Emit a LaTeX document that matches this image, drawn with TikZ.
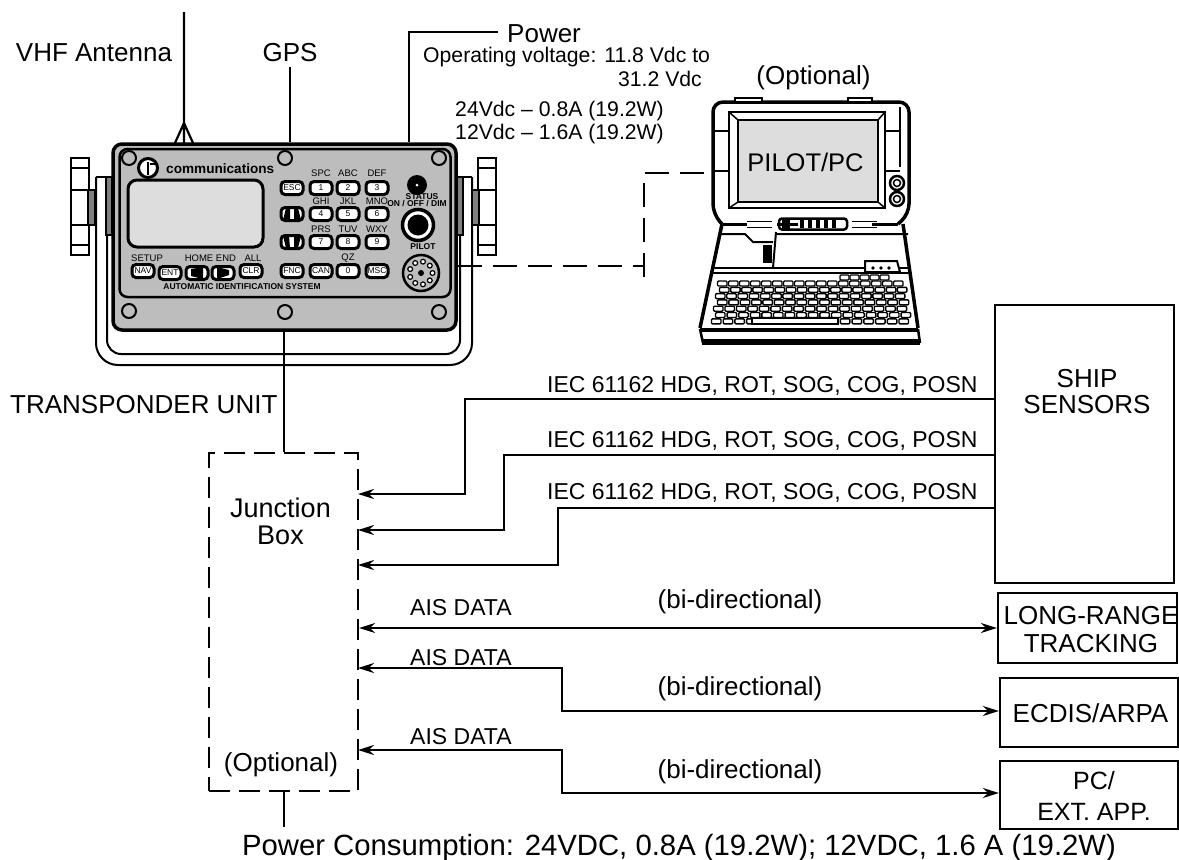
\documentclass[tikz,border=0pt]{standalone}
\usepackage{fontspec}
\setmainfont{Liberation Sans}
\usetikzlibrary{arrows.meta}
\definecolor{panelgray}{HTML}{BDBDBD}
\definecolor{screengray}{HTML}{DDDDDD}
\tikzset{
  biglabel/.style={font=\fontsize{26}{28}\selectfont, inner sep=0, align=center},
  midlabel/.style={font=\fontsize{23}{26}\selectfont, inner sep=0, align=center},
  smalllabel/.style={font=\fontsize{21.2}{23}\selectfont, inner sep=0, align=center},
  keylabel/.style={font=\fontsize{9.5}{11}\selectfont, inner sep=0},
  boldlabel/.style={font=\bfseries\fontsize{8.5}{10}\selectfont, inner sep=0},
  keycap/.style={draw=black, fill=white, line width=3pt, rounded corners=4pt, minimum width=22, minimum height=13, inner sep=0, font=\fontsize{8.5}{10}\selectfont},
  wire/.style={line width=2.2pt},
  dashwire/.style={line width=2.2pt, dash pattern=on 24pt off 11pt},
  sidebox/.style={draw, line width=2.2pt, inner sep=0, align=center, font=\fontsize{26}{28}\selectfont},
  screw/.style={circle, draw, line width=2pt, fill=panelgray, minimum size=14, inner sep=0}
}
\begin{document}
\begin{tikzpicture}[x=1pt, y=-1pt, >={Stealth[length=16pt, width=10pt]}]
    \useasboundingbox (0,0) rectangle (1179,860);
    \draw[line width=2pt, rounded corners=22pt] (96,177) -- (96,365) -- (472,365) -- (472,177);
    \draw[line width=2pt] (96,177) -- (110,177) (472,177) -- (458,177);
    \draw[line width=2pt, rounded corners=14pt] (107,235) -- (107,354) -- (460,354) -- (460,235);
    \filldraw[fill=gray, line width=1.5pt] (106,177) rectangle (112,235) (457,177) rectangle (463,235);
    \foreach \kx/\gx in {71/88, 478/472}{
        \draw[line width=2pt] (\kx,158) rectangle ++(18,97);
        \draw[line width=2pt] (\kx,168) -- ++(18,0) (\kx,245) -- ++(18,0) (\kx,190) -- ++(18,0) (\kx,225) -- ++(18,0);
        \filldraw[fill=gray, line width=1.5pt] (\gx,190) rectangle ++(7,35);
    }
    \node[draw, line width=3.5pt, fill=panelgray, rounded corners=9pt, minimum width=343, minimum height=186, inner sep=0] (unit) at (284.5,237) {};
    \node[draw, line width=2.5pt, fill=panelgray, rounded corners=8pt, minimum width=331, minimum height=148, inner sep=0] (panel) at (285,223) {};
    \foreach \sx/\sy in {129/158, 285/158, 439/158, 129/311, 285/312, 439/312}{
        \node[screw] (screw\sx\sy) at (\sx,\sy) {};
    }
    \node[circle, draw, line width=3pt, fill=white, minimum size=19, inner sep=0] (logo) at (148,168) {};
    \fill (147,162) rectangle (149,175);
    \draw[line width=2pt] (150,164) -- (155,164);
    \node[font=\bfseries\fontsize{13.6}{16}\selectfont, inner sep=0, anchor=west] (brand) at (166,169) {communications};
    \node[draw, line width=3pt, fill=screengray, rounded corners=9pt, minimum width=135, minimum height=67, inner sep=0] (lcd) at (195.5,213.5) {};
    \foreach \kname/\kx/\ky/\ktxt in {esc/292/188/ESC, k1/321/188/1, k2/348/188/2, k3/377/188/3, k4/321/214/4, k5/348/214/5, k6/377/214/6, k7/321/242/7, k8/348/242/8, k9/377/242/9, fnc/292/271/FNC, can/321/271/CAN, k0/348/271/0, msc/377/271/MSC, nav/143/271/NAV, ent/170/273/ENT, clr/251/271/CLR, lft/197/273/, rgt/223/273/, up/292/214/, dwn/292/242/}{
        \node[keycap] (\kname) at (\kx,\ky) {\ktxt};
    }
    \fill (191,269) -- (203,267) -- (203,279) -- (191,276) -- cycle;
    \fill (217,267) -- (229,270) -- (229,275) -- (217,279) -- cycle;
    \fill (286,208) -- (290,208) -- (290,220) -- (283,220) -- cycle (294,208) -- (298,208) -- (301,220) -- (294,220) -- cycle;
    \fill (283,236) -- (289,236) -- (290,248) -- (286,248) -- cycle (294,236) -- (301,236) -- (298,248) -- (294,248) -- cycle;
    \foreach \lname/\lx/\ly/\ltxt in {spc/321/173/SPC, abc/348/173/ABC, def/377/173/DEF, ghi/321/201/GHI, jkl/348/201/JKL, mno/377/201/MNO, prs/321/229/PRS, tuv/348/229/TUV, wxy/377/229/WXY, setup/147/258/SETUP, home/199/258/HOME, end/226/258/END, all/253/258/ALL, qz/348/258/QZ}{
        \node[keylabel] (\lname) at (\lx,\ly) {\ltxt};
    }
    \node[boldlabel] (aisname) at (242,287) {AUTOMATIC IDENTIFICATION SYSTEM};
    \node[boldlabel] (status) at (422,197) {STATUS};
    \node[boldlabel] (onoff) at (417,204) {ON / OFF / DIM};
    \node[boldlabel] (pilot) at (423,247) {PILOT};
    \fill (417,185) circle (10);
    \fill[white] (417,185) circle (1.5);
    \node[circle, draw, line width=3.5pt, fill=white, minimum size=31, inner sep=0] (dial) at (418,225) {};
    \fill (418,225) circle (10.5);
    \node[circle, draw, line width=2.5pt, fill=panelgray, minimum size=36, inner sep=0] (port) at (421,273) {};
    \foreach \pa in {0,40,...,320}{
        \draw[line width=1.2pt, fill=white] (421,273) ++(\pa:11.5) circle (2.4);
    }
    \fill (421,273) circle (3);
    \coordinate (vhftop) at (184,12);
    \coordinate (vhffork) at (184,123);
    \draw[wire] (vhftop) -- (vhffork) -- (175,143) (vhffork) -- (193,143) (vhffork) -- (184,143);
    \node[biglabel] (vhf) at (94,53) {VHF Antenna};
    \node[biglabel] (gps) at (290,53) {GPS};
    \draw[wire] (290,67) -- (unit.north -| 290,0);
    \node[biglabel, anchor=west] (power) at (507,34) {Power};
    \draw[wire] (unit.north -| 409,0) -- (409,32) -- (498,32);
    \node[smalllabel, anchor=west] (volt) at (423,57) {Operating voltage: 11.8 Vdc to};
    \node[smalllabel, anchor=east] (volttwo) at (702,79) {31.2 Vdc};
    \node[smalllabel, align=left] (amps) at (559.5,122.5) {24Vdc -- 0.8A (19.2W)\\12Vdc -- 1.6A (19.2W)};
    \node[biglabel] (optpc) at (813.5,78) {(Optional)};
    \draw[line width=3.5pt, rounded corners=10pt] (722,224) -- (713,214) -- (713,102) -- (909,102) -- (909,214) -- (898,224);
    \draw[line width=2pt, fill=white] (735,98) rectangle (762,102) (848,98) rectangle (872,102);
    \draw[line width=2pt] (713,131) -- (729,131) (713,171) -- (729,171) (885,131) -- (900,131) (885,171) -- (900,171);
    \draw[line width=2.5pt] (900,107) -- (900,167);
    \draw[line width=2.5pt] (729,112) rectangle (885,208);
    \node[draw, line width=2.5pt, fill=screengray, minimum width=140, minimum height=82, inner sep=0, font=\fontsize{25.5}{28}\selectfont] (pcscreen) at (808,161) {};
    \node[inner sep=0, font=\fontsize{25.5}{28}\selectfont] (pctext) at (805.5,162) {PILOT/PC};
    \draw[line width=1.5pt] (729,112) -- (738,120) (885,112) -- (878,120) (729,208) -- (738,202) (885,208) -- (878,202);
    \foreach \ky in {183,199}{
        \draw[line width=2.5pt] (897,\ky) circle (7);
        \draw[line width=1.5pt] (897,\ky) circle (3.5);
    }
    \draw[line width=3pt] (722,224) -- (747,224) (777,224) -- (798,224) (872,224) -- (898,224);
    \draw[line width=1pt] (747,221) -- (772,221) (747,227) -- (772,227) (852,221) -- (877,221) (852,227) -- (877,227);
    \node[draw, line width=2.5pt, rounded corners=3pt, minimum width=68, minimum height=11, inner sep=0] (latch) at (813,224) {};
    \fill (782,219) rectangle (790,230);
    \foreach \lx in {800,808,...,832}{
        \fill (\lx,219) rectangle ++(4,9);
    }
    \draw[line width=3.5pt] (722,224) -- (700,328);
    \draw[line width=3.5pt] (903,224) -- (918,328);
    \draw[line width=2pt] (719,234) -- (745,234) -- (753,242) -- (773,242) (777,234) -- (908,234);
    \draw[line width=2pt] (776,232) -- (773,268);
    \fill (763,245) rectangle (772,263);
    \draw[line width=2pt] (712,268) -- (910,268) (711,273) -- (912,273);
    \filldraw[line width=2pt, fill=white] (865,272) -- (865,261) -- (897,261) -- (900,272) -- cycle;
    \foreach \dx in {873,881,889}{
        \fill (\dx,268) circle (1.8);
    }
    \foreach \kr in {0,...,6}{
        \foreach \kc in {0,...,16}{
            \draw[line width=1.4pt, fill=white, rounded corners=1pt] ({717.5-\kr*1+\kc*(11+\kr*.12)+mod(\kr,2)*3},{281+\kr*6.3}) rectangle ++(9.5,5);
        }
    }
    \draw[line width=1.5pt, fill=white] (752,318) rectangle (838,324);
    \foreach \kc in {0,...,4}{
        \draw[line width=1.3pt, fill=white, rounded corners=1pt] ({840+\kc*10},275) rectangle ++(9,5);
    }
    \draw[line width=4pt] (700,330) -- (918,330);
    \draw[line width=6pt] (702,342) -- (920,342);
    \draw[line width=2.5pt] (700,329) -- (703,343) (918,329) -- (920,343);
    \coordinate (pilotend) at (644,266);
    \coordinate (pcend) at (707,173);
    \draw[dashwire] (port.east -| 458,0) ++(0,-7) -- (pilotend);
    \draw[dashwire] (644,277) -- (644,173) -- (pcend);
    \node[biglabel, anchor=west] (transp) at (10,405) {TRANSPONDER UNIT};
    \node[draw, line width=2.2pt, dash pattern=on 21pt off 9pt, minimum width=149, minimum height=338, inner sep=0] (jbox) at (283.5,622) {};
    \draw[wire] (unit.south -| 284,0) -- (jbox.north -| 284,0);
    \node[biglabel, font=\fontsize{27}{27}\selectfont] (jtext) at (280.5,521) {Junction\\Box};
    \node[biglabel] (jopt) at (281,765) {(Optional)};
    \draw[wire] (jbox.south -| 284,0) -- (284,827);
    \node[sidebox, minimum width=179, minimum height=278] (ship) at (1084.5,444) {};
    \node[biglabel, font=\fontsize{26}{26}\selectfont] (shiptext) at (1087,392) {SHIP\\SENSORS};
    \node[sidebox, minimum width=179, minimum height=70] (track) at (1087.5,628) {};
    \node[biglabel] (tracktext) at (1091,630) {LONG-RANGE\\TRACKING};
    \node[sidebox, minimum width=178, minimum height=69] (ecdis) at (1089,712.5) {};
    \node[biglabel] (ecdistext) at (1090.5,713) {ECDIS/ARPA};
    \node[sidebox, minimum width=178, minimum height=68] (ext) at (1089,795) {};
    \node[biglabel, font=\fontsize{25}{31}\selectfont] (exttext) at (1094,796) {PC/\\EXT. APP.};
    \foreach \iy/\ix/\ay/\ty in {399/465/494/386, 455/504/530/441, 508/558/565/493}{
        \coordinate (jin\iy) at (358,\ay);
        \coordinate (sout\iy) at (995,\iy);
        \draw[wire, ->] (sout\iy) -- (\ix,\iy) -- (\ix,\ay) -- (jin\iy);
        \node[midlabel, anchor=west] (iec\iy) at (547,\ty) {IEC 61162 HDG, ROT, SOG, COG, POSN};
    }
    \draw[wire, <->] (jbox.east |- track.west) -- (track.west);
    \draw[wire, <->] (358,668) -- (562,668) -- (562,711) -- (ecdis.west |- 0,711);
    \draw[wire, <->] (358,750) -- (562,750) -- (562,793) -- (ext.west |- 0,793);
    \foreach \ay in {608,658,737}{
        \node[midlabel, anchor=west] (ais\ay) at (410,\ay) {AIS DATA};
    }
    \foreach \by in {602,689,772}{
        \node[biglabel] (bidir\by) at (740,\by) {(bi-directional)};
    }
    \node[biglabel, font=\fontsize{29.3}{32}\selectfont] (consump) at (679,848) {Power Consumption: 24VDC, 0.8A (19.2W); 12VDC, 1.6 A (19.2W)};
\end{tikzpicture}
\end{document}
